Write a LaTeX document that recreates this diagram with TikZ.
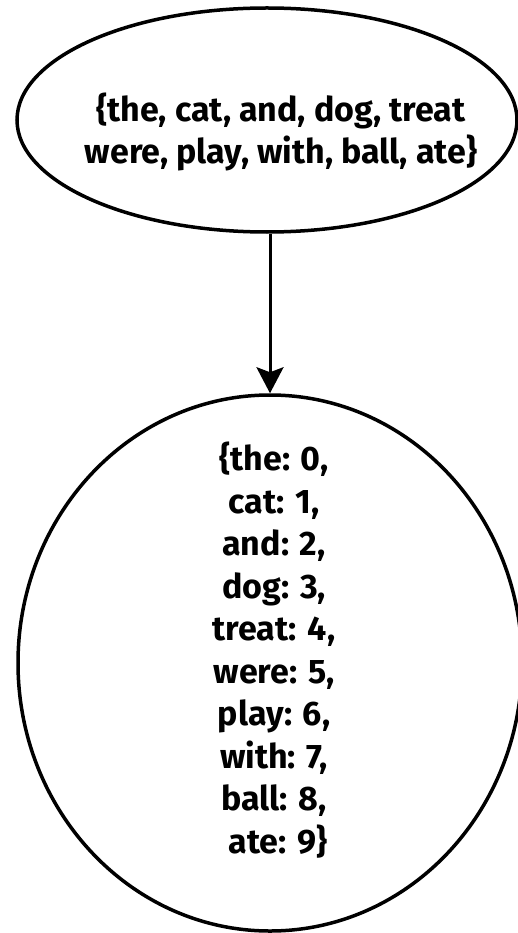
\documentclass[tikz,border=0pt]{standalone}
\usepackage{fontspec}
\setmainfont{Fira Sans}
\usetikzlibrary{shapes.geometric,arrows.meta}
\tikzset{
  ell/.style={draw=black, line width=3.5pt, ellipse, inner sep=0pt},
  txt/.style={align=center, inner sep=0pt, font=\fontsize{34}{42.5}\selectfont\bfseries},
  conn/.style={line width=3pt, -{Stealth[length=26pt,width=27pt,inset=5pt]}}
}
\begin{document}
\begin{tikzpicture}[x=1pt,y=-1pt]
\useasboundingbox[fill=white] (0,0) rectangle (518,933);
\node[ell, minimum width=500pt, minimum height=224pt] (a) at (267,120) {};
\node[txt] (ta) at (281,132) {\{the, cat, and, dog, treat\\ were, play, with, ball, ate\}};
\node[ell, minimum width=504pt, minimum height=536pt] (b) at (270,663) {};
\node[txt] (tb) at (274,650) {\{the: 0,\\cat: 1,\\and: 2,\\dog: 3,\\treat: 4,\\were: 5,\\play: 6,\\with: 7,\\ball: 8,\\\ ate: 9\}};
\draw[conn] (a.south -| 270,0) -- (b.north -| 270,0);
\end{tikzpicture}
\end{document}
